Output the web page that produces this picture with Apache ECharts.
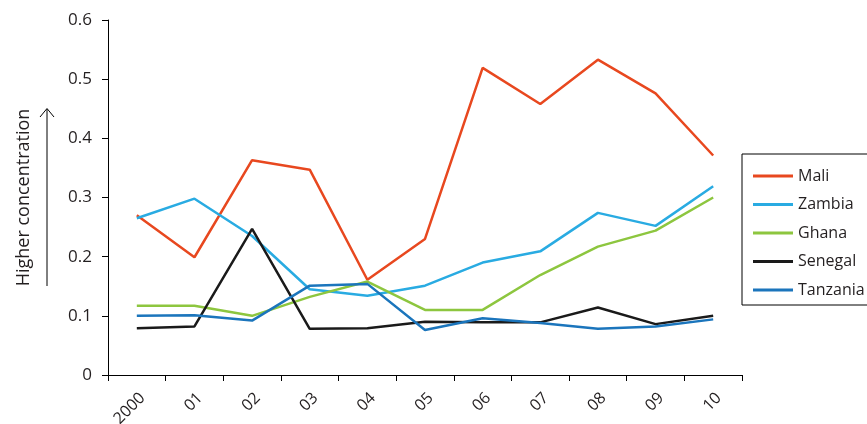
<!DOCTYPE html>
<html>
<head>
<meta charset="utf-8">
<script src="https://cdn.jsdelivr.net/npm/echarts@6/dist/echarts.min.js"></script>
<style>
  html, body { margin: 0; padding: 0; background: #fff; }
  #main { width: 867px; height: 424px; }
</style>
</head>
<body>
<div id="main"></div>
<script>
var years = ['2000', '01', '02', '03', '04', '05', '06', '07', '08', '09', '10'];
var mali = [0.270, 0.199, 0.363, 0.347, 0.161, 0.230, 0.519, 0.458, 0.533, 0.476, 0.371];
var zambia = [0.265, 0.298, 0.235, 0.145, 0.134, 0.151, 0.190, 0.209, 0.274, 0.252, 0.319];
var ghana = [0.117, 0.117, 0.100, 0.132, 0.158, 0.110, 0.110, 0.169, 0.217, 0.244, 0.300];
var senegal = [0.079, 0.082, 0.247, 0.078, 0.079, 0.090, 0.089, 0.089, 0.114, 0.086, 0.100];
var tanzania = [0.100, 0.101, 0.092, 0.151, 0.154, 0.076, 0.096, 0.088, 0.078, 0.082, 0.094];

var font = 'Open Sans';
var textColor = '#231f20';

function line(name, data, color) {
    return {
        name: name,
        type: 'line',
        data: data,
        symbol: 'none',
        lineStyle: { color: color, width: 2.5 },
        itemStyle: { color: color }
    };
}

var chart = echarts.init(document.getElementById('main'));
chart.setOption({
    animation: false,
    textStyle: { fontFamily: font, color: textColor },
    grid: { left: 108, right: 125, top: 20, bottom: 49, containLabel: false, outerBoundsMode: 'none' },
    legend: {
        orient: 'vertical',
        left: 742,
        top: 154,
        width: 200,
        padding: [14, 30, 7, 11],
        borderColor: '#000',
        borderWidth: 1,
        icon: 'rect',
        itemWidth: 40,
        itemHeight: 3,
        itemGap: 12.5,
        textStyle: { fontSize: 16, fontFamily: font, color: textColor },
        data: ['Mali', 'Zambia', 'Ghana', 'Senegal', 'Tanzania']
    },
    xAxis: {
        type: 'category',
        data: years,
        boundaryGap: true,
        axisLine: { lineStyle: { color: '#000', width: 1 } },
        axisTick: { show: true, length: 6, lineStyle: { color: '#000' } },
        axisLabel: {
            rotate: 45, fontSize: 16, color: textColor, fontFamily: font,
            margin: 15, verticalAlign: 'top'
        }
    },
    yAxis: {
        type: 'value',
        min: 0,
        max: 0.6,
        interval: 0.1,
        name: 'Higher concentration',
        nameLocation: 'middle',
        nameGap: 75,
        nameTextStyle: { fontSize: 18, color: textColor, fontFamily: font },
        splitLine: { show: false },
        axisLine: { show: true, lineStyle: { color: '#000', width: 1 } },
        axisTick: { show: true, length: 6, lineStyle: { color: '#000' } },
        axisLabel: {
            fontSize: 17, color: textColor, fontFamily: font, margin: 16,
            formatter: function (v) { return v === 0 ? '0' : v.toFixed(1); }
        }
    },
    graphic: [
        {
            type: 'line',
            shape: { x1: 47, y1: 109, x2: 47, y2: 286 },
            style: { stroke: '#000', lineWidth: 1 }
        },
        {
            type: 'polyline',
            shape: { points: [[40, 117], [47, 108.5], [54, 117]] },
            style: { stroke: '#000', lineWidth: 1, fill: null }
        }
    ],
    series: [
        line('Mali', mali, '#e8481f'),
        line('Zambia', zambia, '#29abe2'),
        line('Ghana', ghana, '#8dc63f'),
        line('Senegal', senegal, '#1a1a1a'),
        line('Tanzania', tanzania, '#1b75bc')
    ]
});
</script>
</body>
</html>
